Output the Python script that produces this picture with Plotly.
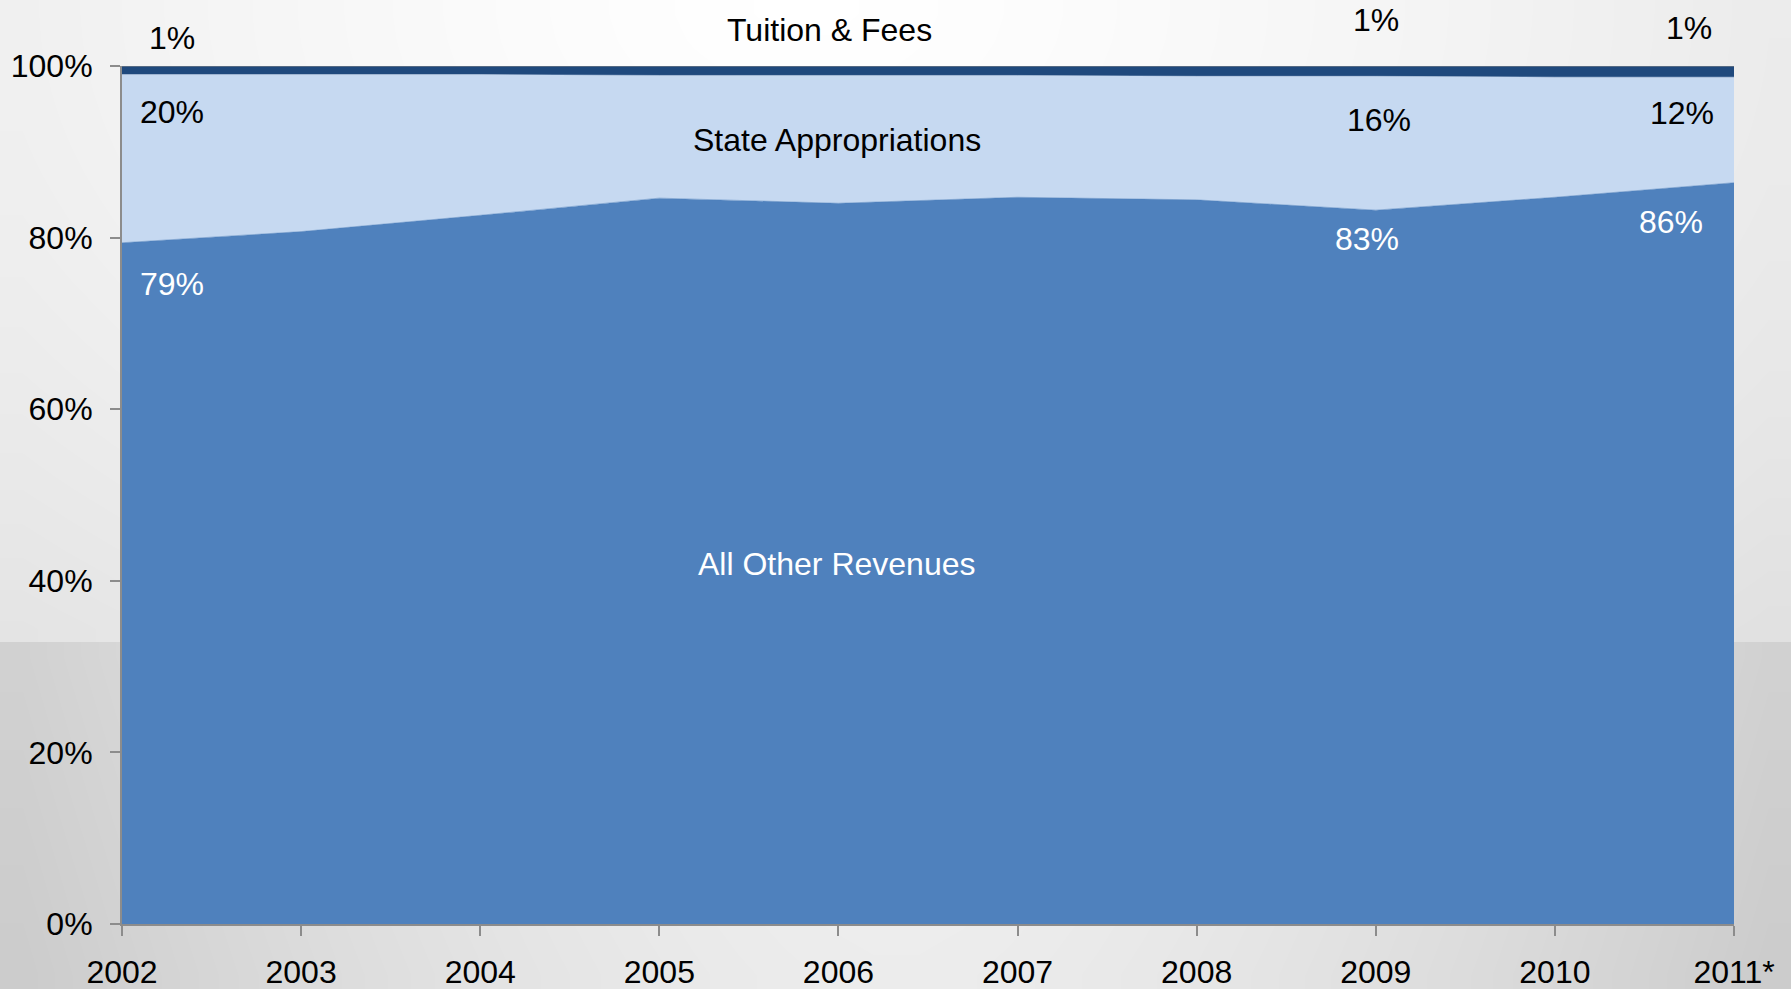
import numpy as np
import plotly.graph_objects as go

# Revenue mix by fiscal year, share of total (%)
years = [2002, 2003, 2004, 2005, 2006, 2007, 2008, 2009, 2010, 2011]
year_labels = ["2002", "2003", "2004", "2005", "2006", "2007", "2008", "2009", "2010", "2011*"]
other_revenues = [79.4, 80.7, 82.6, 84.6, 84.0, 84.7, 84.4, 83.2, 84.7, 86.4]
state_appropriations = [19.6, 18.3, 16.4, 14.3, 14.9, 14.2, 14.4, 15.6, 14.0, 12.3]
tuition_fees = [1.0, 1.0, 1.0, 1.1, 1.1, 1.1, 1.2, 1.2, 1.3, 1.3]

C_OTHER = "#4F81BD"
C_STATE = "#C6D9F1"
C_TUITION = "#1F497D"
AXIS_GREY = "#8C8C8C"
FONT = "Liberation Sans, Arial, sans-serif"
FS = 32

W, H = 1791, 989
split = 1 - 642 / H  # paper y where the slide's lower band begins

fig = go.Figure()

# --- slide backdrop (full-paper heatmaps on the primary axes, given by cell edges) ---
nx = 40
x_edges = np.linspace(0, 1, nx + 1)
x_mid = (x_edges[:-1] + x_edges[1:]) / 2

yt_edges = np.linspace(split, 1, 25)
yt_mid = (yt_edges[:-1] + yt_edges[1:]) / 2
X, Y = np.meshgrid(x_mid, yt_mid)
d = np.sqrt(((X - 0.45) / 0.75) ** 2 + ((Y - 1.0) / 0.9) ** 2)
z_top = 255 - 30 * np.clip(d, 0, 1) ** 1.3

yb_edges = np.linspace(0, split, 13)
yb_mid = (yb_edges[:-1] + yb_edges[1:]) / 2
Xb, Yb = np.meshgrid(x_mid, yb_mid)
z_bot = 242 - 34 * np.abs((Xb - 0.5) / 0.5) ** 1.6 - 6 * (1 - Yb / split)

grey = [[0, "rgb(0,0,0)"], [1, "rgb(255,255,255)"]]
for ys, z in [(yt_edges, z_top), (yb_edges, z_bot)]:
    fig.add_trace(go.Heatmap(x=x_edges, y=ys, z=z, zmin=0, zmax=255, colorscale=grey,
                             showscale=False, zsmooth="best", hoverinfo="skip",
                             xaxis="x", yaxis="y"))

# --- stacked revenue shares ---
for name, vals, col in [("All Other Revenues", other_revenues, C_OTHER),
                        ("State Appropriations", state_appropriations, C_STATE),
                        ("Tuition & Fees", tuition_fees, C_TUITION)]:
    fig.add_trace(go.Scatter(x=years, y=vals, name=name, mode="lines",
                             stackgroup="rev", line=dict(width=0.5, color=col),
                             fillcolor=col, xaxis="x2", yaxis="y2"))

# thin rule along the 100% edge
fig.add_shape(type="line", xref="x2", yref="y2", x0=years[0], x1=years[-1], y0=100, y1=100,
              line=dict(color=AXIS_GREY, width=1))

x0, x1 = 122 / W, 1734 / W
y0, y1 = 1 - 924 / H, 1 - 66 / H


def py(v):
    """Percent value on the value axis -> paper y (lets labels sit above 100%)."""
    return y0 + (y1 - y0) * v / 100.0


# value labels for selected years: (year index, series, x, y, colour)
series = {"other": other_revenues, "state": state_appropriations, "tuition": tuition_fees}
value_labels = [
    (0, "tuition", 2002.28, 103.3, "black"),
    (0, "state", 2002.28, 94.6, "black"),
    (0, "other", 2002.28, 74.6, "white"),
    (7, "tuition", 2009.0, 105.4, "black"),
    (7, "state", 2009.02, 93.7, "black"),
    (7, "other", 2008.95, 79.8, "white"),
    (9, "tuition", 2010.75, 104.4, "black"),
    (9, "state", 2010.71, 94.5, "black"),
    (9, "other", 2010.65, 81.8, "white"),
]
annotations = []
for i, key, ax_, ay_, col in value_labels:
    annotations.append(dict(x=ax_, y=py(ay_), xref="x2", yref="paper", showarrow=False,
                            xanchor="center", yanchor="middle",
                            text=f"{round(series[key][i])}%",
                            font=dict(family=FONT, size=FS, color=col)))

# series names
for text, ax_, ay_, col in [("Tuition & Fees", 2005.95, 104.2, "black"),
                            ("State Appropriations", 2005.99, 91.4, "black"),
                            ("All Other Revenues", 2005.99, 42.0, "white")]:
    annotations.append(dict(x=ax_, y=py(ay_), xref="x2", yref="paper", showarrow=False,
                            xanchor="center", yanchor="middle",
                            text=text, font=dict(family=FONT, size=FS, color=col)))

fig.update_layout(
    width=W, height=H,
    margin=dict(l=0, r=0, t=0, b=0, pad=0),
    paper_bgcolor="white", plot_bgcolor="rgba(0,0,0,0)",
    showlegend=False,
    font=dict(family=FONT, size=FS, color="black"),
    xaxis=dict(domain=[0, 1], range=[0, 1], visible=False, fixedrange=True, automargin=False),
    yaxis=dict(domain=[0, 1], range=[0, 1], visible=False, fixedrange=True, automargin=False),
    xaxis2=dict(domain=[x0, x1], anchor="y2", range=[years[0], years[-1]], automargin=False,
                tickmode="array", tickvals=years, ticktext=year_labels,
                showgrid=False, zeroline=False, showline=True, linecolor=AXIS_GREY,
                linewidth=2, ticks="outside", ticklen=10, tickwidth=1.5,
                tickcolor=AXIS_GREY, ticklabelstandoff=9,
                tickfont=dict(family=FONT, size=FS, color="black")),
    yaxis2=dict(domain=[y0, y1], anchor="x2", range=[0, 100], automargin=False,
                tickmode="array", tickvals=[0, 20, 40, 60, 80, 100],
                ticktext=["0%", "20%", "40%", "60%", "80%", "100%"],
                showgrid=False, zeroline=False, showline=True, linecolor=AXIS_GREY,
                linewidth=2, ticks="outside", ticklen=10, tickwidth=1.5,
                tickcolor=AXIS_GREY, ticklabelstandoff=11,
                tickfont=dict(family=FONT, size=FS, color="black")),
)
fig.update_layout(annotations=annotations)

fig.write_html("out.html")
